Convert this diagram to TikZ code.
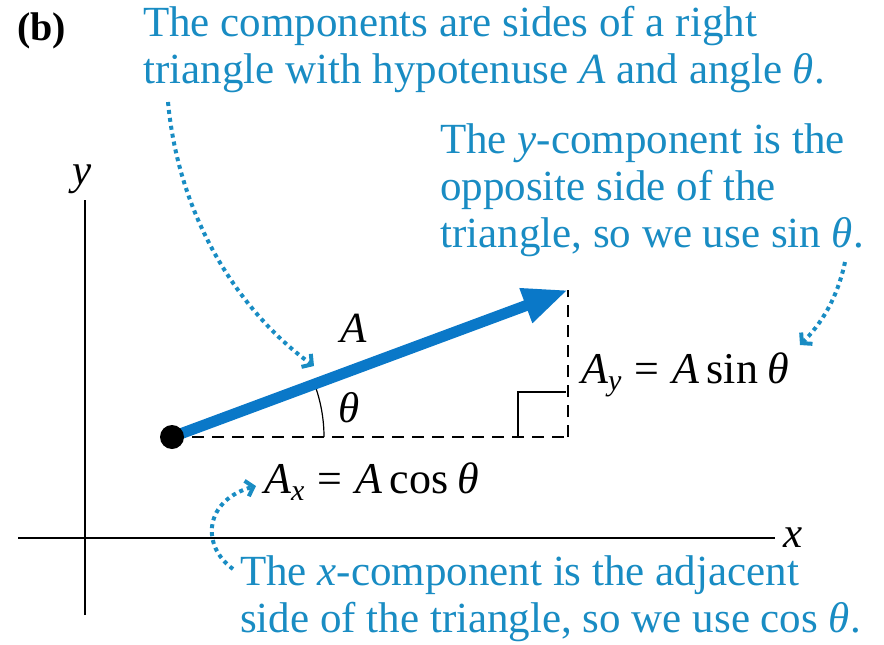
\documentclass[tikz,border=0pt]{standalone}
\usepackage{fontspec}
\setmainfont{Liberation Serif}
\usetikzlibrary{arrows.meta}
\definecolor{txtblue}{RGB}{25,140,195}
\definecolor{vecblue}{RGB}{10,120,200}
\newcommand\subsc[1]{\raisebox{-7pt}{\fontsize{30}{30}\selectfont\itshape #1}}
\begin{document}
\begin{tikzpicture}[x=1pt,y=-1pt,
  note/.style={text=txtblue, font=\fontsize{43}{47}\selectfont, align=left, inner sep=0pt, anchor=base west},
  lab/.style={font=\fontsize{44}{47}\selectfont, inner sep=0pt, anchor=base west},
  dots/.style={txtblue, line width=4pt, dash pattern=on 4pt off 4pt,
    -{Straight Barb[length=7pt,width=16pt,line width=4pt]}},
  axis/.style={line width=1.6pt},
  dashln/.style={line width=1.6pt, dash pattern=on 12pt off 8pt},
  vec/.style={vecblue, line width=11pt, -{Triangle[length=45pt,width=34pt]}}]
\useasboundingbox (0,0) rectangle (884,645);
% axes
\coordinate (xl) at (18,538);
\coordinate (xr) at (775,538);
\coordinate (yb) at (85,615);
\coordinate (yt) at (85,200);
\draw[axis] (xl) -- (xr);
\draw[axis] (yb) -- (yt);
\node[lab, font=\fontsize{43}{47}\selectfont\itshape] (xlab) at (783,547) {x};
\node[lab, font=\fontsize{43}{47}\selectfont\itshape] (ylab) at (72,184) {y};
\node[lab, font=\fontsize{40}{44}\selectfont\bfseries] (blab) at (17,40) {(b)};
% triangle
\coordinate (O) at (172,437);
\coordinate (T) at (568,290);
\coordinate (C) at (568,437);
\draw[dashln] (O) -- (C);
\draw[dashln] (C) -- (T);
\coordinate (s1) at (518,437);
\coordinate (s2) at (518,392);
\coordinate (s3) at (566,392);
\draw[line width=1.6pt] (s1) -- (s2) -- (s3);
\draw[line width=1.2pt] ([shift={(0:152)}]O) arc[start angle=0, end angle=-20.4, radius=152];
\draw[vec] (O) -- (T);
\fill (O) circle[radius=12];
% labels
\node[lab, font=\fontsize{43}{47}\selectfont\itshape] (Alab) at (340,342) {A};
\node[lab, font=\fontsize{43}{47}\selectfont\itshape] (thlab) at (338,422) {θ};
\node[lab] (Ay) at (581,383) {\textit{A}\subsc{y}\hspace{13pt}=\hspace{13pt}\textit{A}\,sin\hspace{9pt}\textit{θ}};
\node[lab] (Ax) at (264,493) {\textit{A}\subsc{x}\hspace{13pt}=\hspace{13pt}\textit{A}\,cos\hspace{9pt}\textit{θ}};
% notes
\node[note] (n1) at (143,83) {The components are sides of a right\\triangle with hypotenuse \textit{A} and angle \textit{θ}.};
\node[note] (n2) at (440,247) {The \textit{y}-component is the\\opposite side of the\\triangle, so we use sin \textit{θ}.};
\node[note] (n3) at (240,632) {The \textit{x}-component is the adjacent\\side of the triangle, so we use cos \textit{θ}.};
% dotted pointers
\coordinate (p1s) at (168,102);
\coordinate (p1e) at (314,366);
\draw[dots] (p1s) .. controls (180,230) and (250,320) .. (p1e);
\coordinate (p2s) at (845,262);
\coordinate (p2e) at (800,345);
\draw[dots] (p2s) .. controls (837,300) and (820,325) .. (p2e);
\coordinate (p3s) at (233,569);
\coordinate (p3e) at (256,486);
\draw[dots] (p3s) .. controls (200,545) and (205,500) .. (p3e);
\end{tikzpicture}
\end{document}
